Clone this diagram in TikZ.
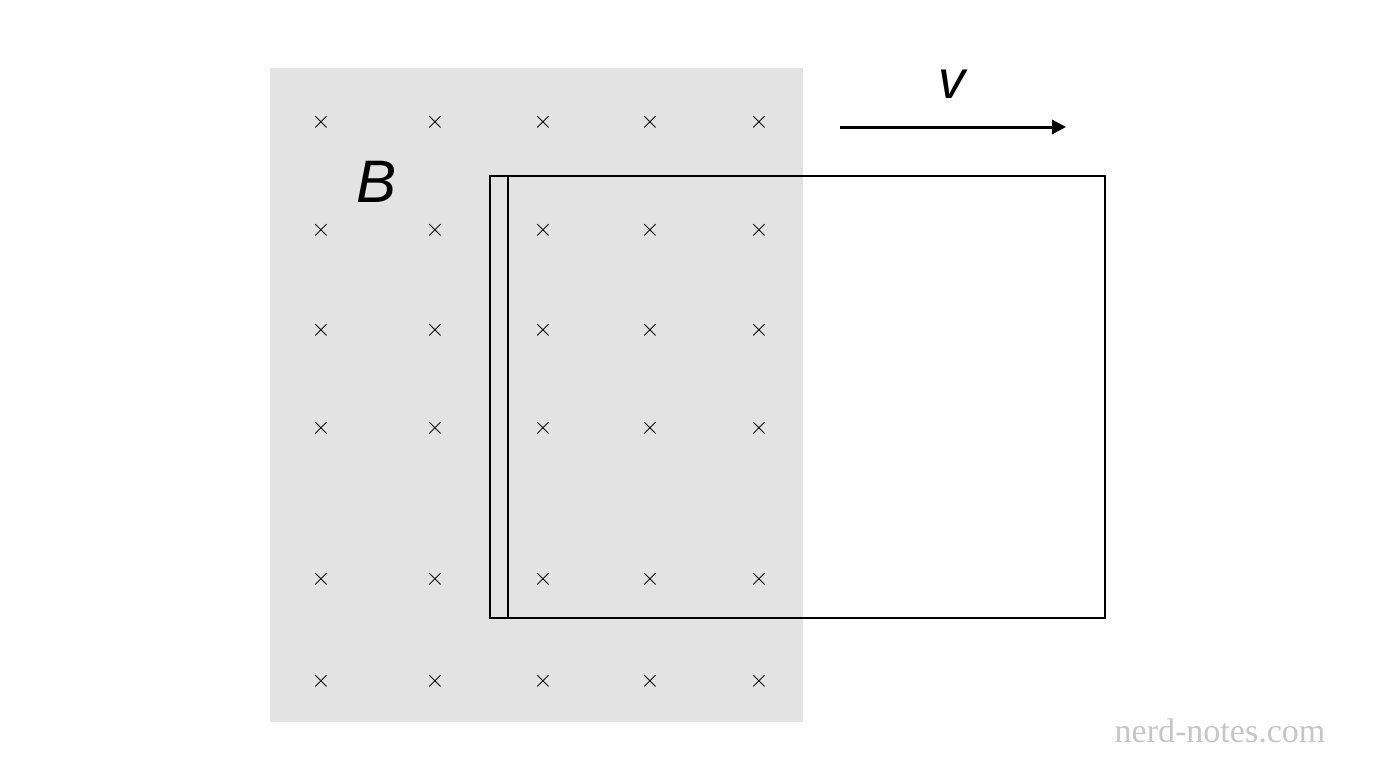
\documentclass[tikz,border=0pt]{standalone}
\usepackage{fontspec}
\setmainfont{Liberation Sans}
\newfontfamily\wmfont{Liberation Serif}
\usetikzlibrary{positioning, arrows.meta}
\tikzset{
	>={Triangle[length=14pt, width=14pt]},
	field/.style={fill=gray!22, draw=none},
	cross/.style={font=\fontsize{40}{40}\selectfont, inner sep=0pt},
	loop/.style={line width=2.6pt},
}

\begin{document}
\begin{tikzpicture}[x=1pt, y=-1pt]
	\useasboundingbox (0,0) rectangle (1376,768);
	
	\fill[field] (270,68) rectangle (803,722);
	
	\foreach \row in {122,230,330,428,579,681}{
		\foreach \col in {321,435,543,650,759}{
			\node[cross] (x-\col-\row) at (\col,\row) {$\times$};
		}
	}
	
	\draw[loop] (490,176) rectangle (1105,618);
	\draw[loop] (508,176) -- (508,618);
	
	\coordinate (vstart) at (840,127);
	\coordinate (vend) at (1066,127);
	\draw[line width=3pt, ->] (vstart) -- (vend);
	\node (v) at (952,84) {\fontsize{54}{54}\selectfont\itshape v};
	\node (B) at (377,182) {\fontsize{60}{60}\selectfont\itshape B};
	
	\node[text=gray!45, font=\wmfont\fontsize{34}{34}\selectfont] (wm) at (1220,731) {nerd-notes.com};
\end{tikzpicture}
\end{document}
